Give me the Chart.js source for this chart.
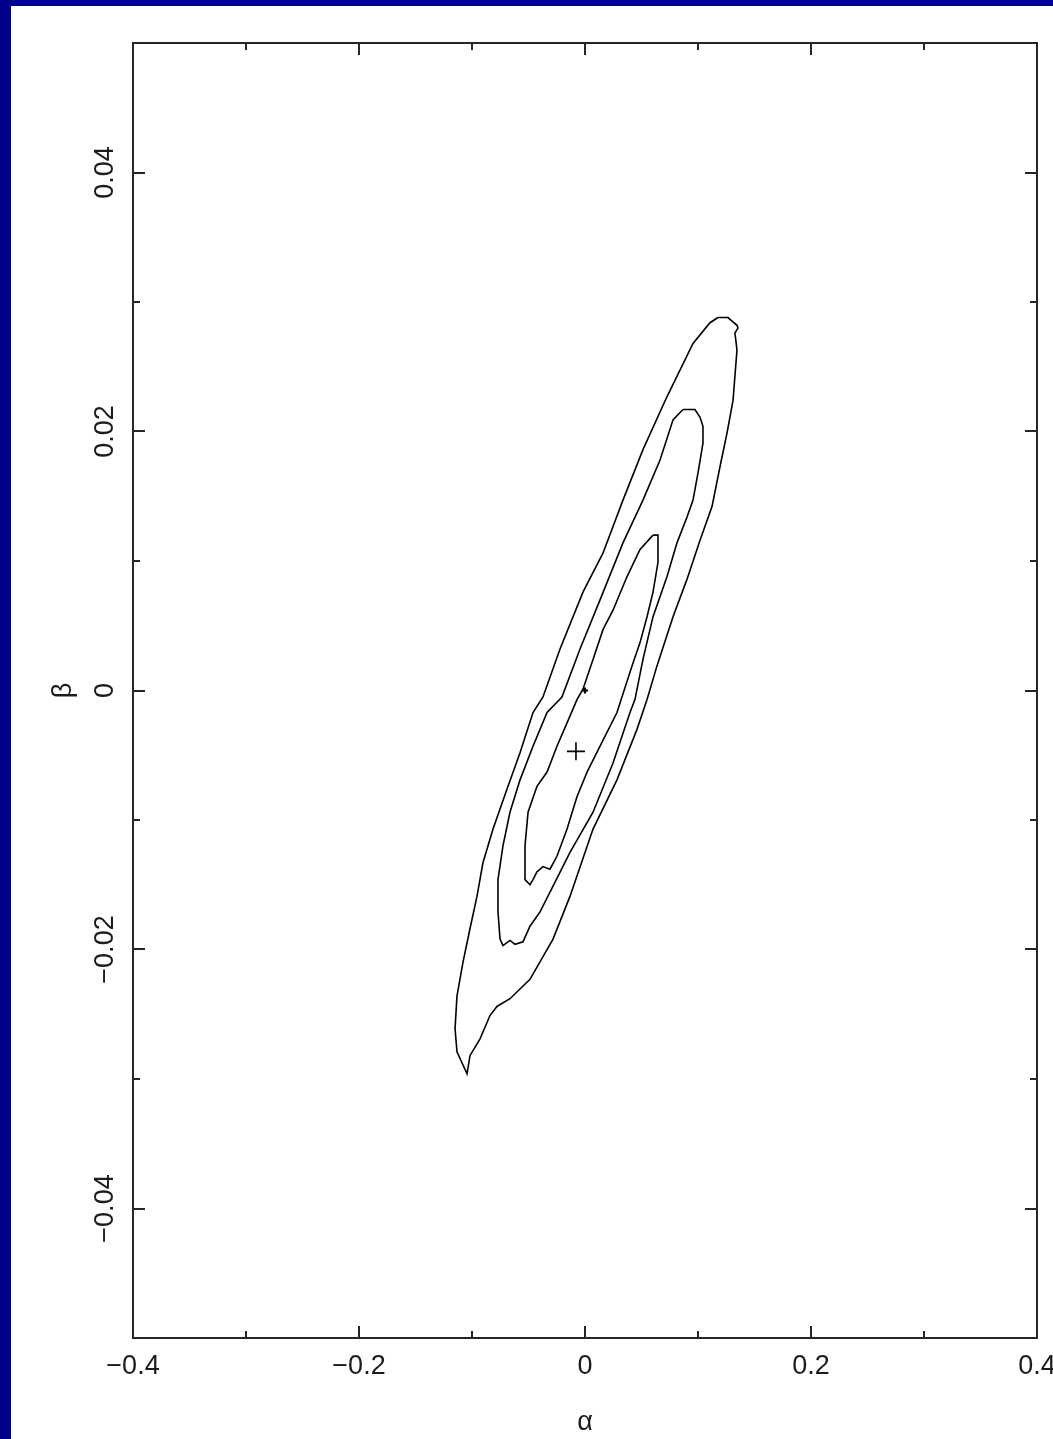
<!DOCTYPE html>
<html>
<head>
<meta charset="utf-8">
<script src="https://cdn.jsdelivr.net/npm/chart.js@4.4.1/dist/chart.umd.min.js"></script>
<style>
  html, body { margin: 0; padding: 0; background: #000088; }
  #wrap { position: relative; width: 1053px; height: 1439px; overflow: hidden; }
  #panel { position: absolute; left: 11px; top: 6px; right: 0; bottom: 0; background: #fff; }
  #c { position: absolute; left: 0; top: 0; }
</style>
</head>
<body>
<div id="wrap">
  <div id="panel"></div>
  <canvas id="c" width="1053" height="1439"></canvas>
</div>
<script>
// contour levels, [alpha, beta]
const outerContour = [
  [0.1177, 0.0288], [0.1265, 0.0288], [0.1345, 0.0282], [0.1354, 0.0280], [0.1327, 0.0276],
  [0.1345, 0.0263], [0.1310, 0.0224], [0.1257, 0.0199], [0.1195, 0.0173], [0.1124, 0.0142],
  [0.1018, 0.0116], [0.0903, 0.0086], [0.0779, 0.0057], [0.0637, 0.0019], [0.0549, -0.0007],
  [0.0460, -0.0030], [0.0283, -0.0069], [0.0071, -0.0107], [-0.0133, -0.0159], [-0.0283, -0.0192],
  [-0.0487, -0.0223], [-0.0664, -0.0238], [-0.0779, -0.0244], [-0.0841, -0.0251], [-0.0929, -0.0269],
  [-0.1018, -0.0282], [-0.1044, -0.0296], [-0.1133, -0.0279], [-0.1150, -0.0261], [-0.1133, -0.0236],
  [-0.1080, -0.0210], [-0.1018, -0.0184], [-0.0956, -0.0159], [-0.0903, -0.0133], [-0.0814, -0.0107],
  [-0.0690, -0.0076], [-0.0575, -0.0048], [-0.0460, -0.0017], [-0.0372, -0.0005], [-0.0221, 0.0032],
  [-0.0018, 0.0076], [0.0159, 0.0106], [0.0336, 0.0147], [0.0513, 0.0186], [0.0726, 0.0227],
  [0.0956, 0.0268], [0.1106, 0.0284], [0.1177, 0.0288]
];
const middleContour = [
  [0.0867, 0.0217], [0.0973, 0.0217], [0.1018, 0.0211], [0.1044, 0.0204], [0.1044, 0.0191],
  [0.1000, 0.0168], [0.0956, 0.0147], [0.0903, 0.0134], [0.0814, 0.0114], [0.0726, 0.0088],
  [0.0602, 0.0057], [0.0513, 0.0024], [0.0442, -0.0007], [0.0398, -0.0017], [0.0248, -0.0056],
  [0.0071, -0.0094], [-0.0133, -0.0125], [-0.0283, -0.0151], [-0.0398, -0.0171], [-0.0487, -0.0182],
  [-0.0549, -0.0194], [-0.0619, -0.0196], [-0.0664, -0.0193], [-0.0726, -0.0197], [-0.0752, -0.0192],
  [-0.0770, -0.0171], [-0.0770, -0.0146], [-0.0726, -0.0120], [-0.0664, -0.0094], [-0.0575, -0.0069],
  [-0.0460, -0.0043], [-0.0336, -0.0017], [-0.0204, -0.0005], [-0.0044, 0.0032], [0.0133, 0.0070],
  [0.0336, 0.0114], [0.0513, 0.0147], [0.0664, 0.0178], [0.0779, 0.0209], [0.0867, 0.0217]
];
const innerContour = [
  [0.0602, 0.0120], [0.0646, 0.0120], [0.0646, 0.0099], [0.0602, 0.0076], [0.0549, 0.0057],
  [0.0487, 0.0037], [0.0416, 0.0019], [0.0327, -0.0005], [0.0283, -0.0017], [0.0133, -0.0043],
  [0.0018, -0.0063], [-0.0071, -0.0082], [-0.0159, -0.0107], [-0.0248, -0.0128], [-0.0310, -0.0138],
  [-0.0372, -0.0136], [-0.0425, -0.0140], [-0.0460, -0.0146], [-0.0487, -0.0150], [-0.0531, -0.0146],
  [-0.0531, -0.0120], [-0.0504, -0.0094], [-0.0425, -0.0074], [-0.0336, -0.0063], [-0.0248, -0.0043],
  [-0.0159, -0.0025], [-0.0071, -0.0007], [-0.0018, 0.0001], [0.0071, 0.0024], [0.0159, 0.0047],
  [0.0248, 0.0062], [0.0372, 0.0088], [0.0487, 0.0109], [0.0602, 0.0120]
];
const bestFit = [[-0.008, -0.0047]];
const origin = [[0, 0]];

const xMajorTicks = [-0.4, -0.2, 0, 0.2, 0.4];
const xMinorTicks = [-0.3, -0.1, 0.1, 0.3];
const yMajorTicks = [-0.04, -0.02, 0, 0.02, 0.04];
const yMinorTicks = [-0.03, -0.01, 0.01, 0.03];

const fmt = v => {
  const n = Number(v.toFixed(3));
  return n < 0 ? '\u2212' + Math.abs(n) : String(n);
};
const pts = arr => arr.map(p => ({ x: p[0], y: p[1] }));

const ink = '#1c1c1c';
const font = { family: 'Liberation Sans', size: 27 };

// box + inward ticks on all four sides
const frameTicks = {
  id: 'frameTicks',
  afterDatasetsDraw(chart) {
    const { ctx, chartArea: a, scales: { x, y } } = chart;
    ctx.save();
    ctx.strokeStyle = '#262626';
    ctx.lineWidth = 2;
    ctx.strokeRect(a.left, a.top, a.right - a.left, a.bottom - a.top);
    ctx.beginPath();
    const xt = (vals, len) => vals.forEach(v => {
      const px = Math.round(x.getPixelForValue(v));
      ctx.moveTo(px, a.bottom); ctx.lineTo(px, a.bottom - len);
      ctx.moveTo(px, a.top); ctx.lineTo(px, a.top + len);
    });
    const yt = (vals, len) => vals.forEach(v => {
      const py = Math.round(y.getPixelForValue(v));
      ctx.moveTo(a.left, py); ctx.lineTo(a.left + len, py);
      ctx.moveTo(a.right, py); ctx.lineTo(a.right - len, py);
    });
    xt(xMajorTicks, 12); xt(xMinorTicks, 7);
    yt(yMajorTicks, 12); yt(yMinorTicks, 7);
    ctx.stroke();
    ctx.restore();
  }
};

const line = (data) => ({
  data: pts(data), showLine: true, fill: false, tension: 0,
  borderColor: '#000', borderWidth: 1.6, pointRadius: 0
});

new Chart(document.getElementById('c'), {
  type: 'scatter',
  data: {
    datasets: [
      line(outerContour),
      line(middleContour),
      line(innerContour),
      { data: pts(bestFit), pointStyle: 'cross', pointRadius: 9, borderColor: '#000', borderWidth: 1.6 },
      { data: pts(origin), pointStyle: 'cross', pointRadius: 3, borderColor: '#000', borderWidth: 2.2 }
    ]
  },
  options: {
    responsive: false,
    animation: false,
    layout: { padding: { top: 43, right: 16, left: 0, bottom: 0 } },
    plugins: { legend: { display: false }, tooltip: { enabled: false } },
    scales: {
      x: {
        type: 'linear', min: -0.4, max: 0.4,
        grid: { display: false, drawTicks: false },
        border: { display: false },
        ticks: { padding: 12, color: ink, font, callback: fmt, maxRotation: 0 },
        afterBuildTicks: s => { s.ticks = xMajorTicks.map(v => ({ value: v })); },
        title: { display: true, text: 'α', color: ink, font, padding: { top: 0, bottom: 0 } },
        afterFit: s => { s.height = 101; s.paddingLeft = 0; s.paddingRight = 0; }
      },
      y: {
        type: 'linear', min: -0.05, max: 0.05,
        grid: { display: false, drawTicks: false },
        border: { display: false },
        ticks: { padding: -7, color: ink, font, callback: fmt,
                 minRotation: 90, maxRotation: 90, crossAlign: 'center' },
        afterBuildTicks: s => { s.ticks = yMajorTicks.map(v => ({ value: v })); },
        title: { display: true, text: 'β', color: ink, font, padding: { top: 47, bottom: 0 } },
        afterFit: s => { s.width = 133; s.paddingTop = 0; s.paddingBottom = 0; }
      }
    }
  },
  plugins: [frameTicks]
});
</script>
</body>
</html>
